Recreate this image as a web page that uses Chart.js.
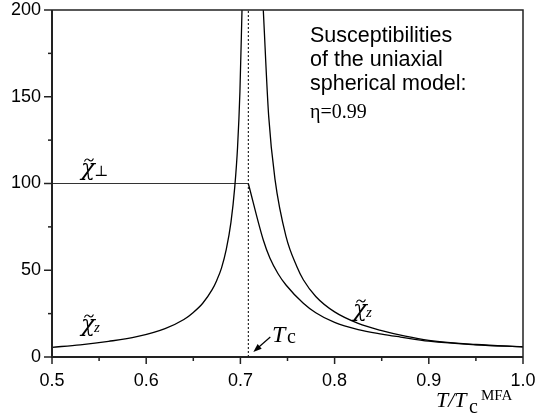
<!DOCTYPE html>
<html>
<head>
<meta charset="utf-8">
<script src="https://cdn.jsdelivr.net/npm/chart.js@4"></script>
<style>
  body { margin: 0; background: #fff; }
  #wrap { width: 537px; height: 418px; }
</style>
</head>
<body>
<div id="wrap"><canvas id="chi"></canvas></div>
<script>
// values
var TC = 0.7084;

var zLeftT = [0.50, 0.53, 0.56, 0.59, 0.62, 0.64, 0.65, 0.66, 0.67, 0.675, 0.68, 0.685, 0.69, 0.694, 0.697, 0.6995, 0.7017];
var zLeft  = [5.6, 7.0, 9.0, 11.7, 16.4, 21.6, 25.7, 31.0, 38.8, 44.3, 51.4, 62.0, 77.7, 97.9, 121, 153, 200];

var zRightT = [0.7243, 0.730, 0.7367, 0.7484, 0.76, 0.7668, 0.78, 0.80, 0.825, 0.85, 0.875, 0.90, 0.95, 1.0];
var zRight  = [200, 139, 102.5, 69.5, 52, 44.5, 34.9, 26, 19.4, 15.2, 12.0, 9.6, 7.2, 5.9];

var perpFlatT = [0.5, TC];
var perpFlat  = [100, 100];

var perpT = [TC, 0.7243, 0.7314, 0.74, 0.7484, 0.7668, 0.78, 0.80, 0.825, 0.85, 0.87, 0.90, 0.95, 1.0];
var perp  = [100, 67.4, 56.9, 48, 41.5, 31, 25.5, 19.9, 15.8, 13.2, 11.5, 9.1, 7.0, 5.9];

var xTicks = [0.5, 0.6, 0.7, 0.8, 0.9, 1.0];
var yTicks = [0, 50, 100, 150, 200];

function pts(xs, ys) {
  return xs.map(function(v, i){ return {x: v, y: ys[i]}; });
}

function line(xs, ys, w, col, smooth) {
  return {
    data: pts(xs, ys),
    borderColor: col,
    borderWidth: w,
    pointRadius: 0,
    fill: false,
    cubicInterpolationMode: smooth ? 'monotone' : 'default',
    tension: 0
  };
}

var serif = '"Liberation Serif", "DejaVu Serif", serif';
var sans = '"Liberation Sans", Arial, sans-serif';

function chiLabel(ctx, x, base, sub, subItalic) {
  ctx.font = 'italic 23px "DejaVu Serif", serif';
  ctx.textAlign = 'left';
  ctx.textBaseline = 'alphabetic';
  ctx.fillText('χ', x, base);
  var w = ctx.measureText('χ').width;
  // tilde drawn as a small wave
  var cx = x + w / 2 + 1, ty = base - 15;
  ctx.save();
  ctx.lineWidth = 1.1;
  ctx.strokeStyle = '#000';
  ctx.beginPath();
  ctx.moveTo(cx - 4.5, ty + 1.5);
  ctx.bezierCurveTo(cx - 3, ty - 2, cx - 1, ty - 1, cx, ty);
  ctx.bezierCurveTo(cx + 1, ty + 1, cx + 3, ty + 2, cx + 4.5, ty - 1.5);
  ctx.stroke();
  ctx.restore();
  ctx.font = (subItalic ? 'italic ' : '') + '15px ' + serif;
  ctx.fillText(sub, x + w - 1, base + 1);
}

var decor = {
  id: 'decor',
  beforeDatasetsDraw: function(chart) {
    var ctx = chart.ctx, x = chart.scales.x, y = chart.scales.y;
    var px = x.getPixelForValue(TC);
    ctx.save();
    ctx.strokeStyle = '#000';
    ctx.lineWidth = 1;
    ctx.setLineDash([2, 2]);
    ctx.beginPath();
    ctx.moveTo(px, y.getPixelForValue(0));
    ctx.lineTo(px, y.getPixelForValue(200));
    ctx.stroke();
    ctx.restore();
  },
  afterDraw: function(chart) {
    var ctx = chart.ctx, a = chart.chartArea, x = chart.scales.x, y = chart.scales.y;
    ctx.save();
    ctx.strokeStyle = '#222';
    ctx.lineWidth = 1.5;
    ctx.beginPath();
    ctx.moveTo(a.left, a.top); ctx.lineTo(a.right, a.top); ctx.lineTo(a.right, a.bottom);
    ctx.stroke();
    ctx.lineWidth = 2;
    ctx.beginPath();
    ctx.moveTo(a.left, a.top); ctx.lineTo(a.left, a.bottom); ctx.lineTo(a.right, a.bottom);
    ctx.stroke();

    // tick marks, majors longer
    ctx.lineWidth = 1.5;
    x.ticks.forEach(function(t) {
      var p = x.getPixelForValue(t.value);
      var major = Math.round(t.value * 100) % 10 === 0;
      ctx.beginPath();
      ctx.moveTo(p, a.bottom);
      ctx.lineTo(p, a.bottom + (major ? 7 : 4));
      ctx.stroke();
    });
    y.ticks.forEach(function(t) {
      var p = y.getPixelForValue(t.value);
      var major = Math.round(t.value) % 50 === 0;
      ctx.beginPath();
      ctx.moveTo(a.left, p);
      ctx.lineTo(a.left - (major ? 8 : 4), p);
      ctx.stroke();
    });

    ctx.fillStyle = '#000';

    // text block
    ctx.font = '21.5px ' + sans;
    ctx.textAlign = 'left';
    ctx.textBaseline = 'alphabetic';
    ctx.fillText('Susceptibilities', 310, 42);
    ctx.fillText('of the uniaxial', 310, 66);
    ctx.fillText('spherical model:', 310, 90);
    ctx.font = '20px ' + serif;
    ctx.fillText('η=0.99', 310, 118);

    // curve labels
    chiLabel(ctx, 81, 175, '⊥', false);
    chiLabel(ctx, 81, 331, 'z', true);
    chiLabel(ctx, 353, 316, 'z', true);

    // Tc with arrow
    var tcx = x.getPixelForValue(TC);
    ctx.font = 'italic 24px ' + serif;
    ctx.fillText('T', 272, 342);
    ctx.font = '20px ' + serif;
    ctx.fillText('c', 287, 343);
    ctx.strokeStyle = '#000';
    ctx.lineWidth = 1.2;
    var x0 = tcx + 22, y0 = a.bottom - 20, x1 = tcx + 5, y1 = a.bottom - 5;
    ctx.beginPath();
    ctx.moveTo(x0, y0); ctx.lineTo(x1 + 5, y1 - 4.5);
    ctx.stroke();
    var ang = Math.atan2(y1 - y0, x1 - x0);
    ctx.beginPath();
    ctx.moveTo(x1, y1);
    ctx.lineTo(x1 - 9 * Math.cos(ang - 0.35), y1 - 9 * Math.sin(ang - 0.35));
    ctx.lineTo(x1 - 9 * Math.cos(ang + 0.35), y1 - 9 * Math.sin(ang + 0.35));
    ctx.closePath();
    ctx.fill();

    // axis title T/Tc^MFA
    ctx.font = 'italic 22px ' + serif;
    ctx.fillText('T/T', 436, 407);
    ctx.font = '20px ' + serif;
    ctx.fillText('c', 469, 413);
    ctx.font = '15px ' + serif;
    ctx.fillText('MFA', 481, 400);
    ctx.restore();
  }
};

new Chart(document.getElementById('chi'), {
  type: 'line',
  data: {
    datasets: [
      line(zLeftT, zLeft, 1.3, '#000', true),
      line(zRightT, zRight, 1.3, '#000', true),
      line(perpFlatT, perpFlat, 1, '#333', false),
      line(perpT, perp, 1.3, '#000', true)
    ]
  },
  options: {
    responsive: true,
    maintainAspectRatio: false,
    animation: false,
    events: [],
    layout: { padding: { left: 0, top: 10, right: 14, bottom: 0 } },
    plugins: { legend: { display: false }, tooltip: { enabled: false } },
    scales: {
      x: {
        type: 'linear',
        min: 0.5, max: 1.0,
        grid: { display: false },
        border: { display: false },
        afterFit: function(s) { s.height = 61; s.paddingLeft = 0; s.paddingRight = 0; },
        ticks: {
          stepSize: 0.05,
          autoSkip: false,
          maxRotation: 0,
          padding: 5,
          color: '#000',
          font: { family: sans, size: 18 },
          callback: function(v) {
            var r = Math.round(v * 10) / 10;
            return xTicks.indexOf(r) >= 0 && Math.abs(v - r) < 1e-6 ? r.toFixed(1) : '';
          }
        }
      },
      y: {
        min: 0, max: 200,
        grid: { display: false },
        border: { display: false },
        afterFit: function(s) { s.width = 52; s.paddingTop = 0; s.paddingBottom = 0; },
        ticks: {
          stepSize: 25,
          autoSkip: false,
          padding: 3,
          color: '#000',
          font: { family: sans, size: 18 },
          callback: function(v) { return yTicks.indexOf(v) >= 0 ? String(v) : ''; }
        }
      }
    }
  },
  plugins: [decor]
});
</script>
</body>
</html>
